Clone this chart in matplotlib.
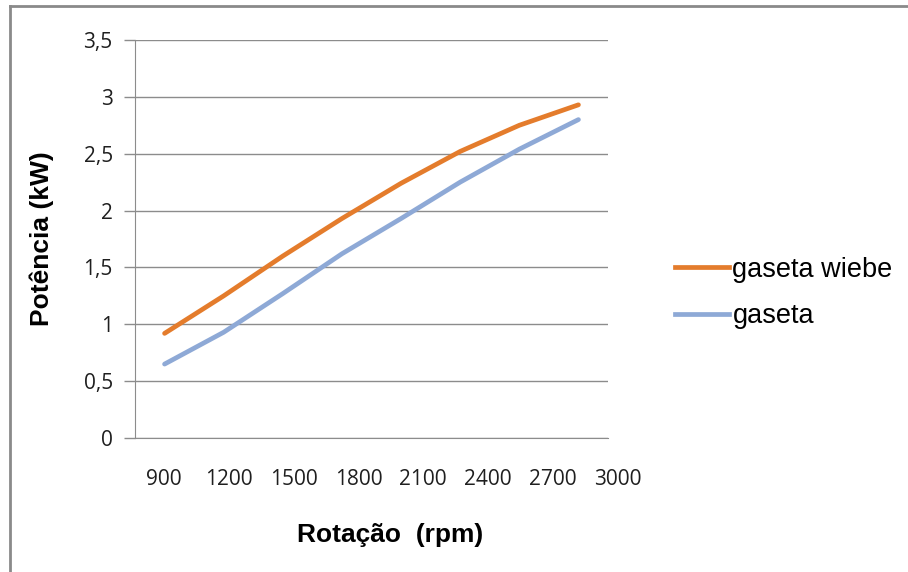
import matplotlib
matplotlib.use("Agg")
import matplotlib.pyplot as plt
from matplotlib.lines import Line2D

categories = ["900", "1200", "1500", "1800", "2100", "2400", "2700", "3000"]
gaseta_wiebe = [0.92, 1.25, 1.60, 1.93, 2.24, 2.52, 2.75, 2.93]
gaseta = [0.65, 0.93, 1.27, 1.62, 1.93, 2.25, 2.54, 2.80]
yticks = [0, 0.5, 1, 1.5, 2, 2.5, 3, 3.5]
ytick_labels = ["0", "0,5", "1", "1,5", "2", "2,5", "3", "3,5"]

W, H = 908, 572
fig = plt.figure(figsize=(W / 100, H / 100), dpi=100)
fig.patch.set_facecolor("white")

tick_font = "Open Sans"
tick_size = 15
tick_color = "#1f1f1f"
title_font = "Liberation Sans"

# tick-label strip for the category axis (Excel spreads the labels slightly wider)
ax_lab = fig.add_axes([131.6 / W, 1 - 438 / H, 518.4 / W, 1 / H])
ax_lab.set_xlim(-0.5, len(categories) - 0.5)
ax_lab.set_xticks(range(len(categories)))
ax_lab.set_xticklabels(categories, fontfamily=tick_font, fontsize=tick_size, color=tick_color)
ax_lab.set_yticks([])
ax_lab.tick_params(axis="x", length=0, pad=22)
for s in ax_lab.spines.values():
    s.set_visible(False)
ax_lab.patch.set_visible(False)

ax = fig.add_axes([135 / W, 1 - 438 / H, (608 - 135) / W, (438 - 40) / H])
x = list(range(len(categories)))
orange = "#E47C2C"
blue = "#8EA9D6"
ax.plot(x, gaseta_wiebe, color=orange, lw=3.4, solid_capstyle="round",
        solid_joinstyle="round", label="gaseta wiebe", zorder=3)
ax.plot(x, gaseta, color=blue, lw=3.4, solid_capstyle="round",
        solid_joinstyle="round", label="gaseta", zorder=3)

ax.set_xlim(-0.5, len(categories) - 0.5)
ax.set_ylim(0, 3.5)
ax.set_yticks(yticks)
ax.set_yticklabels(ytick_labels, fontfamily=tick_font, fontsize=tick_size, color=tick_color)
ax.set_xticks(x)
ax.set_xticklabels([])

ax.grid(axis="y", color="#8c8c8c", lw=1)
ax.set_axisbelow(True)
for s in ["top", "right"]:
    ax.spines[s].set_visible(False)
ax.spines["left"].set_color("#8c8c8c")
ax.spines["bottom"].set_color("#8c8c8c")
ax.tick_params(axis="y", length=8, color="#8c8c8c", width=1, pad=8)
ax.tick_params(axis="x", length=0)
ax.patch.set_visible(False)

fig.text(42 / W, 1 - 239 / H, "Potência (kW)", rotation=90, ha="center", va="center",
         fontfamily=title_font, fontweight="bold", fontsize=19)
fig.text(390 / W, 1 - 535 / H, "Rotação  (rpm)", ha="center", va="center",
         fontfamily=title_font, fontweight="bold", fontsize=19)

fig.legend(handles=[Line2D([], [], color=orange, lw=3.4),
                    Line2D([], [], color=blue, lw=3.4)],
           labels=["gaseta wiebe", "gaseta"],
           loc="center left", bbox_to_anchor=(675 / W, 1 - 293 / H),
           frameon=False, prop={"family": title_font, "size": 19.5},
           handlelength=2.0, handletextpad=0.12, labelspacing=0.75,
           borderpad=0, borderaxespad=0)

# chart border (top and left edges visible)
fig.add_artist(Line2D([10 / W, 10 / W], [0, 1 - 6 / H], transform=fig.transFigure,
                      color="#8a8a8a", lw=2))
fig.add_artist(Line2D([10 / W, 1], [1 - 6 / H, 1 - 6 / H], transform=fig.transFigure,
                      color="#8a8a8a", lw=2))

fig.savefig("out.png", dpi=100)
